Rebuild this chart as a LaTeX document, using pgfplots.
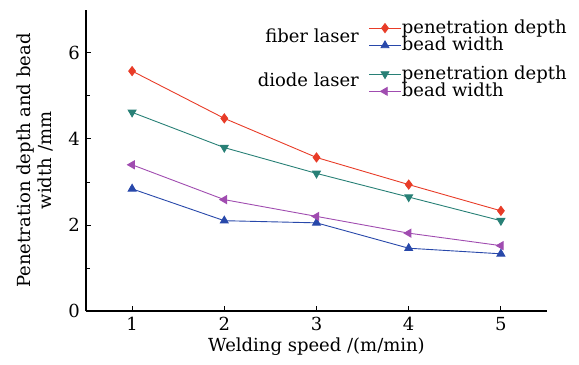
\documentclass[border=0pt]{standalone}
\usepackage{pgfplots}
\pgfplotsset{compat=1.18}
\usepackage{fontspec}
\setmainfont{DejaVu Serif}
\definecolor{cred}{RGB}{232,60,40}
\definecolor{cblue}{RGB}{40,72,170}
\definecolor{cteal}{RGB}{40,128,118}
\definecolor{cpurp}{RGB}{160,76,176}
\pgfplotsset{
  base/.style={
    scale only axis,
    width=461bp, height=301bp,
    xmin=0.5, xmax=5.5, ymin=0, ymax=7,
    legend cell align=left,
    legend style={draw=none, fill=none, anchor=north west,
      font=\fontsize{18bp}{19bp}\selectfont, row sep=0pt,
      nodes={inner sep=0.5bp}},
    legend image code/.code={\draw[mark repeat=2,mark phase=2] plot coordinates {(0bp,0bp) (16bp,0bp) (32bp,0bp)};},
    every axis plot/.append style={line width=0.9bp},
  }
}
\begin{document}
\fontsize{18bp}{21bp}\selectfont
\begin{tikzpicture}
\path[use as bounding box] (-86bp,-54bp) rectangle (493bp,311bp);
\begin{axis}[
  base,
  axis lines=left,
  axis line style={-, line width=1.3bp},
  xtick={1,2,3,4,5},
  ytick={0,2,4,6},
  minor ytick={1,3,5},
  tick align=inside,
  major tick length=5bp, minor tick length=4bp,
  tick style={line width=1bp, black},
  /pgf/number format/assume math mode=true,
  ticklabel style={font=\fontsize{18bp}{21bp}\selectfont},
  label style={font=\fontsize{18bp}{21bp}\selectfont},
  xlabel={Welding speed /(m/min)},
  ylabel={Penetration depth and bead\\width /mm},
  ylabel style={align=center, yshift=3bp},
  xlabel style={yshift=5bp},
  legend style={at={(rel axis cs:0.606,0.976)}},
]
\addplot[cred, mark=diamond*, mark size=4.5bp, mark options={fill=cred}] coordinates {(1,5.58) (2,4.48) (3,3.57) (4,2.94) (5,2.33)};
\addlegendentry{penetration depth}
\addplot[cblue, mark=triangle*, mark size=4.5bp, mark options={fill=cblue}] coordinates {(1,2.84) (2,2.1) (3,2.05) (4,1.46) (5,1.33)};
\addlegendentry{bead width}
\end{axis}
\begin{axis}[
  base,
  hide axis,
  legend style={at={(rel axis cs:0.606,0.8236)}},
]
\addplot[cteal, mark=triangle*, mark size=4.5bp, mark options={fill=cteal, rotate=180}] coordinates {(1,4.62) (2,3.8) (3,3.2) (4,2.65) (5,2.1)};
\addlegendentry{penetration depth}
\addplot[cpurp, mark=triangle*, mark size=4.5bp, mark options={fill=cpurp, rotate=90}] coordinates {(1,3.4) (2,2.59) (3,2.2) (4,1.81) (5,1.52)};
\addlegendentry{bead width}
\end{axis}
\node[anchor=east, inner sep=0pt] at (273bp,275bp) {fiber laser};
\node[anchor=east, inner sep=0pt] at (273bp,231bp) {diode laser};
\end{tikzpicture}
\end{document}
